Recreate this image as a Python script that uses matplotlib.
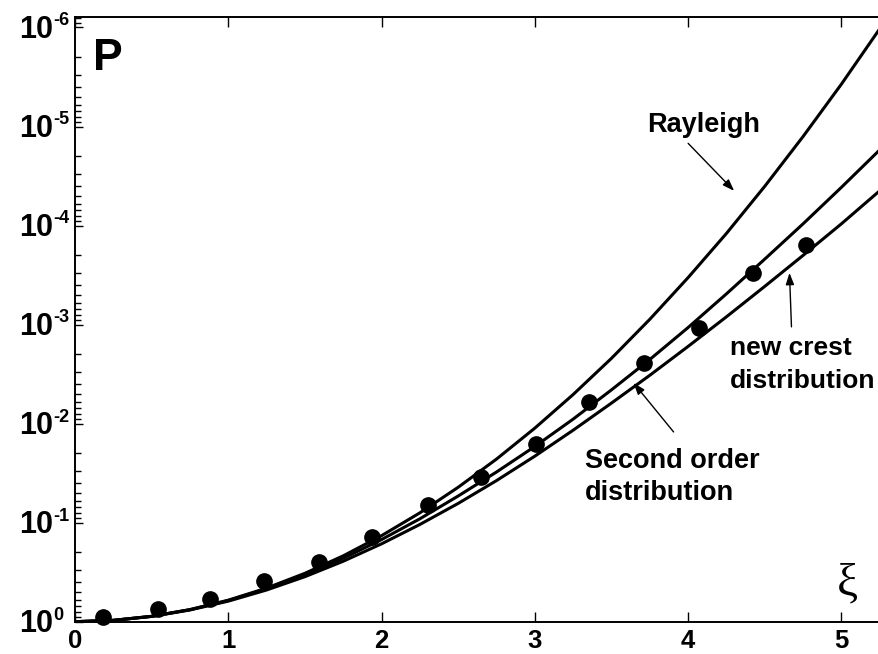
import numpy as np
import matplotlib
matplotlib.use("Agg")
import matplotlib.pyplot as plt
from matplotlib.ticker import LogLocator, NullFormatter

plt.rcParams['font.family'] = ['Liberation Sans', 'DejaVu Sans']
plt.rcParams['font.weight'] = 'bold'

# curves (exceedance probability P vs xi)
xi = [0, 0.25, 0.5, 0.75, 1, 1.25, 1.5, 1.75, 2, 2.25, 2.5, 2.75,
      3, 3.25, 3.5, 3.75, 4, 4.25, 4.5, 4.75, 5, 5.25]
p_rayleigh = [1.0, 0.9692, 0.8825, 0.7548, 0.6065, 0.4578, 0.3247, 0.2163,
              0.1353, 0.0796, 0.0439, 0.0228, 0.0111, 5.08e-3, 2.19e-3,
              8.84e-4, 3.35e-4, 1.20e-4, 4.01e-5, 1.26e-5, 3.73e-6, 1.03e-6]
p_middle = [1.0, 0.9694, 0.8831, 0.7568, 0.6110, 0.4658, 0.3358, 0.2289,
            0.1481, 0.0914, 0.0538, 0.0308, 0.0170, 9.0e-3, 4.56e-3,
            2.25e-3, 1.07e-3, 4.89e-4, 2.18e-4, 9.6e-5, 4.11e-5, 1.72e-5]
p_lower = [1.0, 0.9694, 0.8846, 0.7615, 0.6203, 0.4786, 0.3512, 0.2452,
           0.1636, 0.1043, 0.0639, 0.0376, 0.0213, 0.01165, 6.20e-3,
           3.25e-3, 1.66e-3, 8.34e-4, 4.11e-4, 2.0e-4, 9.6e-5, 4.45e-5]

# measured points (dots)
xi_dots = [0.18, 0.54, 0.88, 1.23, 1.59, 1.94, 2.30, 2.65, 3.01, 3.35,
           3.71, 4.07, 4.42, 4.77]
p_dots = [0.9016, 0.7482, 0.5929, 0.3899, 0.2506, 0.1400, 0.0665, 0.0347,
          0.0161, 6.07e-3, 2.45e-3, 1.08e-3, 3.02e-4, 1.58e-4]

decades = [0, -1, -2, -3, -4, -5, -6]
x_ticks = [0, 1, 2, 3, 4, 5]

fig = plt.figure(figsize=(8.79, 6.54), dpi=100)
ax = fig.add_axes([0.0853, 0.0494, 0.9147, 0.9241])

ax.plot(xi, p_rayleigh, color='black', lw=2.2)
ax.plot(xi, p_middle, color='black', lw=2.2)
ax.plot(xi, p_lower, color='black', lw=2.2)
ax.plot(xi_dots, p_dots, 'o', color='black', ms=11, zorder=5, clip_on=False)

ax.set_yscale('log')
ax.set_xlim(0, 5.245)
ax.set_ylim(1, 7.9e-7)

ax.set_xticks(x_ticks)
ax.set_xticklabels([str(v) for v in x_ticks], fontsize=18.5, fontweight='bold')
ax.set_yticks([10.0 ** d for d in decades])
ax.yaxis.set_minor_locator(LogLocator(base=10, subs=np.arange(2, 10), numticks=20))
ax.yaxis.set_minor_formatter(NullFormatter())
ax.set_yticklabels([])

ax.tick_params(axis='both', which='major', direction='in')
ax.tick_params(axis='y', which='major', length=6, width=1)
ax.tick_params(axis='y', which='minor', direction='in', length=4, width=1)
ax.tick_params(axis='x', which='major', length=7, width=1, pad=5.5,
               top=True, bottom=True)

# y tick labels: "10" with a small raised exponent
for d in decades:
    ax.annotate('10', xy=(0, 10.0 ** d), xycoords=('axes fraction', 'data'),
                xytext=(-16, -7.5), textcoords='offset points',
                fontsize=22, fontweight='bold', ha='right', va='baseline',
                annotation_clip=False)
    ax.annotate(str(d), xy=(0, 10.0 ** d), xycoords=('axes fraction', 'data'),
                xytext=(-15.5, 1.5), textcoords='offset points',
                fontsize=13, fontweight='bold', ha='left', va='baseline',
                annotation_clip=False)

ax.spines['right'].set_visible(False)
for s in ['left', 'bottom', 'top']:
    ax.spines[s].set_linewidth(1.4)

# labels inside the axes
ax.text(0.022, 0.913, 'P', transform=ax.transAxes, fontsize=32,
        fontweight='bold', va='baseline', ha='left')
ax.text(0.961, 0.062, 'ξ', transform=ax.transAxes, fontsize=34,
        family='Liberation Serif', fontweight='normal', va='center', ha='center')

arrow = dict(arrowstyle='-|>,head_length=0.7,head_width=0.25', color='black',
             lw=1, shrinkA=0, shrinkB=0)

ax.text(3.73, 10**-4.94, 'Rayleigh', fontsize=19.5, fontweight='bold',
        va='baseline', ha='left')
ax.annotate('', xy=(4.30, 10**-4.35), xytext=(4.0, 10**-4.83),
            arrowprops=arrow)

ax.text(4.27, 10**-2.694, 'new crest', fontsize=19, fontweight='bold',
        va='baseline', ha='left')
ax.text(4.27, 10**-2.36, 'distribution', fontsize=19, fontweight='bold',
        va='baseline', ha='left')
ax.annotate('', xy=(4.661, 10**-3.522), xytext=(4.674, 10**-2.977),
            arrowprops=arrow)

ax.text(3.325, 10**-1.553, 'Second order', fontsize=19.5, fontweight='bold',
        va='baseline', ha='left')
ax.text(3.325, 10**-1.229, 'distribution', fontsize=19.5, fontweight='bold',
        va='baseline', ha='left')
ax.annotate('', xy=(3.644, 10**-2.411), xytext=(3.905, 10**-1.916),
            arrowprops=arrow)

plt.savefig('out.png', dpi=100)
